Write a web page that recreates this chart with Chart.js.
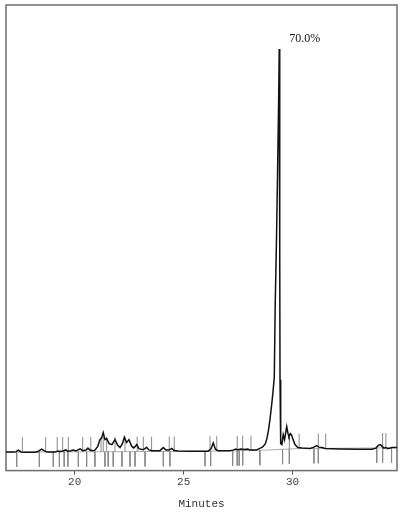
<!DOCTYPE html>
<html>
<head>
<meta charset="utf-8">
<script src="https://cdn.jsdelivr.net/npm/chart.js@4/dist/chart.umd.min.js"></script>
<style>
body{margin:0;background:#fff;}
#wrap{width:403px;height:513px;}
</style>
</head>
<body>
<div id="wrap"><canvas id="chart"></canvas></div>
<script>
// retention time (minutes) and detector signal (% of full scale)
let times = [16.85,17.22,17.31,17.41,17.54,17.72,18.18,18.32,18.41,18.49,18.59,18.73,
19.10,19.24,19.33,19.47,19.59,19.69,19.83,19.94,20.06,20.25,20.38,20.52,20.61,20.70,20.84,20.93,
21.06,21.16,21.24,21.31,21.39,21.47,21.58,21.71,21.85,21.97,22.08,22.19,22.28,22.38,22.49,22.61,
22.70,22.77,22.85,22.95,23.09,23.20,23.30,23.41,23.55,23.91,24.07,24.19,24.33,24.45,24.56,24.74,
25.29,25.75,26.12,26.25,26.36,26.46,26.57,27.13,27.26,27.40,27.49,27.63,27.77,27.95,28.04,28.32,
28.50,28.64,28.75,28.82,28.89,28.96,29.05,29.11,29.16,29.20,29.26,29.31,29.36,29.387,29.405,29.414,
29.423,29.442,29.465,29.51,29.57,29.63,29.73,29.79,29.83,29.90,29.96,30.02,30.11,30.24,30.43,30.80,
30.98,31.10,31.21,31.35,31.48,32.17,33.09,33.64,33.82,33.94,34.03,34.12,34.19,34.28,34.37,34.56,34.79];
let signal = [3.97,3.97,4.08,4.40,4.01,3.93,3.93,4.08,4.40,4.61,4.29,3.97,
4.01,4.18,4.12,4.23,4.44,4.18,4.25,4.44,4.23,4.66,4.29,4.40,4.83,4.40,4.29,4.40,
5.21,6.65,7.02,8.15,6.65,6.87,5.79,5.58,6.65,5.47,4.94,5.79,7.15,6.01,6.65,5.26,
4.87,5.15,5.58,4.72,4.51,4.61,5.00,4.44,4.29,4.29,4.94,4.40,4.40,4.76,4.33,4.23,
4.18,4.14,4.18,4.61,5.94,4.61,4.29,4.29,4.40,4.61,4.46,4.61,4.51,4.61,4.40,4.40,
4.76,5.15,5.79,6.87,8.58,10.94,14.59,17.38,20.17,35.19,49.57,63.95,79.61,90.56,75.32,47.42,
19.53,8.80,5.79,5.58,7.73,6.65,9.44,7.94,7.30,7.94,7.57,6.65,5.58,4.94,4.83,4.76,
5.04,5.36,5.04,4.94,4.76,4.66,4.61,4.61,4.83,5.47,5.58,5.15,4.83,4.94,4.72,4.94,4.94];

// drawn baseline
let baseTimes = [16.85,25.75,28.50,30.24,34.79];
let baseValues = [3.97,4.14,4.35,4.72,4.90];

// integration event marks
let marksAbove = [17.60,18.67,19.20,19.45,19.71,20.37,20.74,21.21,21.31,21.47,21.85,22.31,22.87,
23.15,23.53,24.34,24.57,26.21,26.52,27.46,27.71,28.09,29.85,30.30,31.18,31.52,34.13,34.28];
let marksBelow = [17.34,18.38,19.02,19.30,19.52,19.69,20.17,20.55,20.93,21.39,21.54,21.77,22.17,
22.54,22.77,23.23,24.07,24.37,25.98,26.24,27.25,27.46,27.55,27.71,28.50,29.54,29.85,30.98,31.18,
33.86,34.13,34.54];

let tickVals = [20,25,30];
let xTitle = "Minutes";
let peakLabel = "70.0%";

function baseAt(t){
for(let i=0;i<baseTimes.length-1;i++){
if(t<=baseTimes[i+1]){
let f=(t-baseTimes[i])/(baseTimes[i+1]-baseTimes[i]);
return baseValues[i]+f*(baseValues[i+1]-baseValues[i]);
}
}
return baseValues[baseValues.length-1];
}

function markSegments(list, len){
let pts=[];
list.forEach(t=>{
let b=baseAt(t);
pts.push({x:t,y:b});
pts.push({x:t,y:b+len});
pts.push({x:t,y:null});
});
return pts;
}

let trace = times.map((t,i)=>({x:t,y:signal[i]}));
let base = baseTimes.map((t,i)=>({x:t,y:baseValues[i]}));

const framePlugin = {
id:"frame",
beforeDatasetsDraw(chart){
let a=chart.chartArea, ctx=chart.ctx;
ctx.save();
ctx.strokeStyle="#6e6e6e";
ctx.lineWidth=1.5;
ctx.strokeRect(a.left,a.top,a.right-a.left,a.bottom-a.top);
ctx.restore();
},
afterDatasetsDraw(chart){
let ctx=chart.ctx;
let iMax=signal.indexOf(Math.max(...signal));
let px=chart.scales.x.getPixelForValue(times[iMax]);
let py=chart.scales.y.getPixelForValue(signal[iMax]);
ctx.save();
ctx.fillStyle="#111";
ctx.font="12px 'Liberation Serif', serif";
ctx.textBaseline="middle";
ctx.fillText(peakLabel,px+10,py-10);
ctx.restore();
}
};

new Chart(document.getElementById("chart"),{
type:"line",
data:{
datasets:[
{data:trace,borderColor:"#111",borderWidth:1.5,pointRadius:0,tension:0,order:1},
{data:base,borderColor:"#999",borderWidth:0.8,pointRadius:0,tension:0,order:3},
{data:markSegments(marksAbove,3.2),borderColor:"#8a8a8a",borderWidth:1,pointRadius:0,spanGaps:false,order:2},
{data:markSegments(marksBelow,-3.2),borderColor:"#8a8a8a",borderWidth:1,pointRadius:0,spanGaps:false,order:2}
]
},
options:{
responsive:true,
maintainAspectRatio:false,
animation:false,
devicePixelRatio:1,
layout:{padding:{left:6,right:6,top:5,bottom:0}},
plugins:{legend:{display:false},tooltip:{enabled:false}},
scales:{
x:{
type:"linear",
min:16.85,
max:34.79,
afterBuildTicks(scale){ scale.ticks=tickVals.map(v=>({value:v})); },
grid:{display:true,drawOnChartArea:false,drawTicks:true,tickLength:4,color:"#555"},
border:{display:false},
ticks:{padding:1,color:"#444",font:{family:"'Liberation Mono', monospace",size:11},maxRotation:0},
title:{display:true,text:xTitle,color:"#333",font:{family:"'Liberation Mono', monospace",size:11},padding:{top:8,bottom:2}}
},
y:{display:false,min:0,max:100}
}
},
plugins:[framePlugin]
});
</script>
</body>
</html>
